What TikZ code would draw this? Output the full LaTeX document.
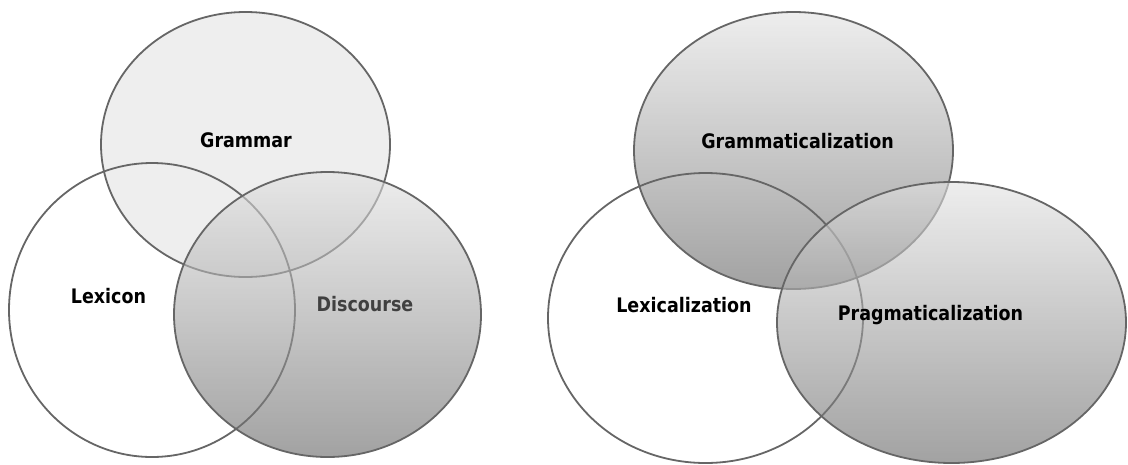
\documentclass[tikz,border=0pt]{standalone}
\usepackage{fontspec}
\newfontfamily\vennfont[FakeStretch=0.875]{DejaVu Sans}
\usepackage{tikz}
\usetikzlibrary{positioning}
\definecolor{rim}{HTML}{666666}
\definecolor{pale}{HTML}{EEEEEE}
\definecolor{shadetop}{HTML}{E2E2E2}
\definecolor{shadebot}{HTML}{646464}
\definecolor{softtext}{HTML}{404040}

\begin{document}
\begin{tikzpicture}[
  x=1pt, y=-1pt,
  rimline/.style={draw=rim, line width=1.8pt},
  flat/.style={rimline, fill=pale},
  graded/.style={rimline, top color=shadetop, bottom color=shadebot,
    fill opacity=0.6},
  term/.style={font=\vennfont\bfseries\fontsize{20}{24}\selectfont,
    anchor=base, inner sep=0pt, text=black},
]
  \useasboundingbox (0,0) rectangle (1128,464);

  % Centres of the ellipses
  \coordinate (gram) at (245.5,144.5);
  \coordinate (lexi) at (152,310);
  \coordinate (disc) at (327.5,314.5);
  \coordinate (gramz) at (793.5,150.5);
  \coordinate (lexz) at (705.5,318);
  \coordinate (pragz) at (951.5,322.5);

  % Left diagram
  \draw[flat] (gram) ellipse [x radius=144.5, y radius=132.5];
  \draw[rimline] (lexi) ellipse [x radius=143, y radius=147];
  \draw[graded] (disc) ellipse [x radius=153.5, y radius=142.5];

  % Right diagram
  \draw[graded] (gramz) ellipse [x radius=159.5, y radius=138.5];
  \draw[rimline] (lexz) ellipse [x radius=157.5, y radius=145];
  \draw[graded] (pragz) ellipse [x radius=174.5, y radius=140.5];

  % Labels
  \node[term] (grammar) at (246,147) {Grammar};
  \node[term] (lexicon) at (108.5,303) {Lexicon};
  \node[term, text=softtext] (discourse) at (365,311) {Discourse};
  \node[term] (gramlab) at (797.5,148.5) {Grammaticalization};
  \node[term] (lexlab) at (684,312) {Lexicalization};
  \node[term] (praglab) at (930.5,320) {Pragmaticalization};
\end{tikzpicture}
\end{document}
